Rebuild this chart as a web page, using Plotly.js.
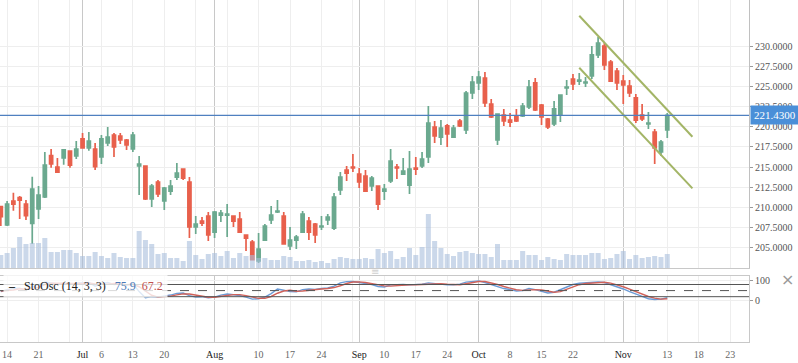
<!DOCTYPE html>
<html>
<head>
<meta charset="utf-8">
<script src="https://cdn.plot.ly/plotly-3.0.1.min.js"></script>
<style>html,body{margin:0;padding:0;background:#fff;}#chart{width:798px;height:363px;}</style>
</head>
<body>
<div id="chart"></div>
<script>
// ---- price data (one candle per trading day, index 0 .. 106) ----
const openP = [210.06,207.78,210.77,211.18,210.39,207.98,209.77,211.27,216.42,215.00,
216.13,217.00,216.38,218.50,217.38,217.25,216.25,218.00,218.99,218.87,
218.37,217.25,215.13,215.13,211.02,213.14,210.77,212.01,213.75,214.75,
213.14,207.53,208.27,208.90,206.90,209.02,209.02,208.90,208.52,206.53,
205.65,203.29,205.90,208.40,209.40,208.90,205.16,205.90,206.90,208.27,
207.90,207.53,208.40,207.40,212.14,214.63,215.00,214.13,213.88,212.64,
212.64,212.01,213.26,215.00,214.13,212.76,214.88,215.13,216.25,219.99,
218.74,220.12,218.74,220.74,219.62,224.23,225.48,226.10,222.86,218.37,
221.49,220.86,221.36,221.36,222.49,225.48,222.73,220.99,220.37,221.49,
224.85,225.97,225.72,225.48,226.35,228.97,230.09,228.09,226.97,225.72,
225.10,223.61,221.49,220.37,219.37,216.88,219.62];
const highP = [210.14,210.77,211.80,211.39,210.89,213.79,212.64,216.88,217.25,216.13,
217.25,217.05,218.25,219.24,219.37,218.00,218.99,219.99,219.24,219.24,
218.50,219.37,216.38,215.20,212.89,213.39,212.51,213.39,215.50,214.80,
213.75,208.90,208.77,209.40,209.52,209.65,210.39,208.95,209.40,206.58,
205.90,206.78,207.90,210.14,210.89,209.40,207.53,206.53,209.52,208.77,
208.02,208.90,209.15,211.76,214.38,215.13,216.63,214.88,214.63,213.88,
212.70,212.89,217.25,215.38,216.13,217.00,216.25,216.88,222.61,220.74,
220.86,220.37,220.24,220.99,224.48,226.35,226.97,226.85,223.48,221.66,
222.24,221.74,222.24,222.98,225.85,226.10,222.86,221.11,223.23,224.03,
225.85,226.60,226.72,226.22,230.09,231.21,230.46,228.34,227.35,226.47,
225.85,224.10,222.86,221.86,219.74,218.37,221.74];
const lowP = [207.65,207.65,209.56,208.52,208.40,205.41,208.52,211.14,214.92,214.29,
215.29,214.92,216.00,217.30,217.04,214.63,215.38,217.62,216.25,217.87,
217.13,216.88,211.52,210.89,210.02,211.27,209.65,211.52,213.39,213.39,
206.15,206.65,207.65,205.78,206.15,208.15,206.28,207.53,206.78,204.53,
203.41,203.04,205.85,207.90,209.27,205.36,204.66,204.78,206.78,205.90,
205.53,207.15,207.78,207.15,211.52,213.26,214.38,212.39,211.89,212.01,
209.65,210.89,213.01,213.51,214.00,211.64,214.00,214.88,215.50,218.00,
217.75,217.50,218.62,219.99,219.12,223.48,224.60,222.49,221.11,217.75,
220.12,219.99,220.61,221.24,222.24,221.99,220.24,219.74,220.12,220.61,
223.98,224.60,225.23,224.98,225.97,228.59,227.10,225.67,224.60,222.86,
223.73,220.49,220.74,219.74,215.38,216.38,218.62];
const closeP = [208.82,210.39,210.39,210.89,208.94,212.26,211.52,215.25,215.38,214.38,
217.13,215.25,217.25,217.38,218.25,215.04,218.50,218.74,217.50,218.37,
217.75,218.99,215.38,211.02,212.64,211.64,212.39,212.64,214.25,213.63,
207.53,207.90,208.02,206.53,209.40,209.27,209.15,208.27,206.90,206.15,
203.45,204.78,207.65,209.02,209.52,205.41,205.90,206.28,209.15,206.90,
206.53,207.65,208.77,211.27,213.75,214.25,214.88,213.14,212.01,213.63,
210.39,212.26,215.75,214.88,214.50,214.75,214.75,216.00,220.49,218.87,
219.87,219.12,219.87,220.12,224.23,225.60,226.22,222.98,221.24,221.61,
220.74,220.61,220.74,222.61,224.98,222.11,221.24,219.99,222.24,223.98,
224.98,225.35,225.85,225.60,228.97,230.46,227.72,225.72,225.48,225.23,
224.23,220.86,220.99,220.49,217.38,218.12,221.43];
const volume = [13,15,20,31,24,25,25,30,16,16,18,18,15,12,12,16,12,10,15,11,
10,10,37,28,24,14,15,10,10,7,27,13,9,14,15,12,17,10,15,12,
13,10,10,8,8,12,11,7,7,8,6,7,5,9,11,10,9,9,10,9,
19,15,17,9,11,20,13,21,54,27,20,14,12,16,17,15,14,14,11,24,
8,8,8,17,13,13,8,11,9,8,14,13,13,13,15,15,9,10,14,17,
9,13,10,11,12,11,14];
// ---- stochastic oscillator (%K blue, %D red) ----
const stoK = [45,55,60,62,50,70,78,92,88,82,88,80,86,88,90,72,85,90,80,82,
76,85,45,15,20,18,22,28,36,38,25,18,20,14,18,28,33,30,26,18,
8,10,18,35,58,52,45,44,55,58,56,60,63,72,88,94,95,90,84,80,
70,68,78,80,80,78,80,82,88,84,80,78,78,82,92,96,98,90,80,70,
60,55,48,50,60,55,45,38,42,55,70,80,86,88,90,92,90,80,68,58,
45,32,22,10,6,8,15];
const stoD = [48,50,53,59,57,61,66,80,86,87,86,83,85,85,88,83,82,82,85,84,
79,81,69,48,27,18,20,23,29,34,33,27,21,17,17,20,26,30,30,25,
17,12,12,21,37,48,52,47,48,52,56,58,60,65,74,85,92,93,90,85,
78,73,72,75,79,79,79,80,83,85,84,81,79,79,84,90,95,95,89,80,
70,62,54,51,53,55,53,46,42,45,56,68,79,85,88,90,91,87,79,69,
57,45,33,21,13,8,10];
// ---- trend channel (drawn on the chart) ----
const channelX = [92, 110];
const channelUpper = [233.86, 218.78];
const channelLower = [227.38, 212.35];
const lastPrice = 221.43;
// ---- axis ticks ----
const weekTicks = [1,6,11,16,21,26,31,36,41,46,51,56,61,66,71,76,81,86,91,96,101,106,111,116];
const monthTicks = [13,34,57,76,99];
const monthLabels = ['Jul','Aug','Sep','Oct','Nov'];
const dayTicks = [1,6,16,21,26,41,46,51,61,66,71,81,86,91,106,111,116];
const dayLabels = ['14','21','6','13','20','10','17','24','10','17','24','8','15','22','13','18','23'];
const priceTicks = [205,207.5,210,212.5,215,217.5,220,222.5,225,227.5,230];

const idx = openP.map((_, i) => i);
const GREEN = '#6BA98F', RED = '#E8604C';
const SERIF = 'Liberation Serif, Times New Roman, serif';
const XR = [-0.13, 119.0];

const traces = [
  {type:'candlestick', x: idx, open: openP, high: highP, low: lowP, close: closeP,
   xaxis:'x', yaxis:'y', hoverinfo:'skip', whiskerwidth:0,
   increasing:{line:{color:GREEN, width:1.7}, fillcolor:GREEN},
   decreasing:{line:{color:RED, width:1.7}, fillcolor:RED}},
  {type:'scatter', mode:'lines', x: channelX, y: channelUpper, xaxis:'x', yaxis:'y',
   line:{color:'#a3b566', width:2}, hoverinfo:'skip'},
  {type:'scatter', mode:'lines', x: channelX, y: channelLower, xaxis:'x', yaxis:'y',
   line:{color:'#a3b566', width:2}, hoverinfo:'skip'},
  {type:'bar', x: idx, y: volume, xaxis:'x', yaxis:'y2',
   marker:{color:'rgba(168,190,220,0.6)', line:{width:0}}, hoverinfo:'skip'},
  {type:'scatter', mode:'lines', x: idx, y: stoK, xaxis:'x2', yaxis:'y3',
   line:{color:'#6b9bd6', width:1.4}, hoverinfo:'skip'},
  {type:'scatter', mode:'lines', x: idx, y: stoD, xaxis:'x2', yaxis:'y3',
   line:{color:'#d0625a', width:1.4}, hoverinfo:'skip'},
  {type:'scatter', mode:'lines', x: [], y: [], xaxis:'x3', yaxis:'y3', hoverinfo:'skip'}
];

const minorGrid = {tickvals: weekTicks, showgrid:true, gridcolor:'#eeeeee', gridwidth:1, ticks:''};

const layout = {
  width: 798, height: 363,
  margin: {l:0, r:49, t:0, b:21},
  paper_bgcolor:'#fff', plot_bgcolor:'#fff',
  showlegend:false, dragmode:false, bargap:0.2, boxgap:0.3,
  font:{family:SERIF, size:10, color:'#555'},
  xaxis: {domain:[0,1], anchor:'y', range:XR, type:'linear', rangeslider:{visible:false},
    tickmode:'array', tickvals: monthTicks, showticklabels:false, ticks:'',
    showgrid:true, gridcolor:'#c8c8c8', gridwidth:1, minor: minorGrid,
    showline:true, linecolor:'#c8c8c8', linewidth:1, zeroline:false, fixedrange:true},
  yaxis: {domain:[0.2164,1], anchor:'x', side:'right', range:[202.42,235.82],
    tickmode:'array', tickvals: priceTicks, ticktext: priceTicks.map(v => v.toFixed(4)),
    ticks:'outside', ticklen:3, tickcolor:'#999', showgrid:true, gridcolor:'#eeeeee',
    showline:true, linecolor:'#c0c0c0', zeroline:false, fixedrange:true,
    tickfont:{family:SERIF, size:10, color:'#555'}},
  yaxis2: {overlaying:'y', anchor:'x', range:[0,268], visible:false, fixedrange:true},
  xaxis2: {domain:[0,1], anchor:'y3', range:XR, type:'linear',
    tickmode:'array', tickvals: monthTicks, ticktext: monthLabels,
    ticks:'outside', ticklen:3, tickcolor:'rgba(0,0,0,0)',
    tickfont:{family:SERIF, size:10, color:'#222'},
    showgrid:true, gridcolor:'#c8c8c8', gridwidth:1, minor: minorGrid,
    showline:true, mirror:true, linecolor:'#c8c8c8', zeroline:false, fixedrange:true},
  xaxis3: {overlaying:'x2', anchor:'y3', range:XR, type:'linear',
    tickmode:'array', tickvals: dayTicks, ticktext: dayLabels,
    ticks:'outside', ticklen:3, tickcolor:'rgba(0,0,0,0)',
    tickfont:{family:SERIF, size:10, color:'#666'},
    showgrid:false, showline:false, zeroline:false, fixedrange:true},
  yaxis3: {domain:[0.001,0.194], anchor:'x2', side:'right', range:[-201.5,123.6],
    tickmode:'array', tickvals:[0,100], ticktext:['0','100'],
    ticks:'outside', ticklen:3, tickcolor:'#999', showgrid:true, gridcolor:'#eeeeee',
    showline:true, mirror:true, linecolor:'#c8c8c8', zeroline:false, fixedrange:true,
    tickfont:{family:SERIF, size:10, color:'#555'}},
  shapes: [
    {type:'line', xref:'paper', yref:'y', x0:0, x1:1, y0:lastPrice, y1:lastPrice,
     line:{color:'#4f80c0', width:1.3}, layer:'above'},
    {type:'line', xref:'paper', yref:'y3', x0:0, x1:1, y0:80, y1:80, line:{color:'#555', width:1}},
    {type:'line', xref:'paper', yref:'y3', x0:0, x1:1, y0:20, y1:20, line:{color:'#555', width:1}},
    {type:'line', xref:'paper', yref:'y3', x0:0, x1:1, y0:50, y1:50, line:{color:'#555', width:1, dash:'dash'}}
  ],
  annotations: [
    {xref:'paper', yref:'y', x:1, y:lastPrice, xanchor:'left', yanchor:'middle', xshift:1,
     text: lastPrice.toFixed(4), showarrow:false, bgcolor:'#4a8fd8', borderpad:3,
     font:{family:SERIF, size:11, color:'#fff'}},
    {xref:'paper', yref:'paper', x:0, y:0.1637, xanchor:'left', yanchor:'middle', xshift:3,
     text:'<b>–</b>&nbsp;&nbsp;&nbsp;StoOsc (14, 3, 3)&nbsp;&nbsp;&nbsp;<span style="color:#4a7ab8">75.9</span>&nbsp;&nbsp;<span style="color:#c0504d">67.2</span>',
     showarrow:false, bgcolor:'rgba(255,255,255,0.78)', borderpad:4,
     font:{family:SERIF, size:12, color:'#222'}},
    {xref:'paper', yref:'paper', x:1.0517, y:0.1842, xanchor:'center', yanchor:'middle',
     text:'×', showarrow:false, font:{family:'DejaVu Sans', size:16, color:'#999'}},
    {xref:'paper', yref:'paper', x:375/749.3, y:0.2076, xanchor:'center', yanchor:'middle',
     text:'≡', showarrow:false, font:{family:'DejaVu Sans', size:10, color:'#d0d0d0'}}
  ]
};

Plotly.newPlot('chart', traces, layout, {staticPlot:true, displayModeBar:false});
</script>
</body>
</html>
